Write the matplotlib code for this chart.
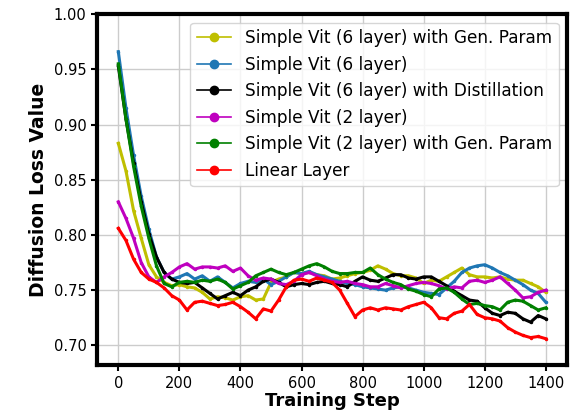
import matplotlib
matplotlib.use("Agg")
import matplotlib.pyplot as plt
from matplotlib.lines import Line2D
import numpy as np

steps = np.arange(0, 1401, 25)

# one value every 25 steps
vit6_gen = [0.883, 0.858, 0.822, 0.797, 0.773, 0.762, 0.757, 0.754, 0.755, 0.753,
            0.752, 0.748, 0.742, 0.744, 0.743, 0.741, 0.744, 0.745, 0.741, 0.742,
            0.757, 0.760, 0.762, 0.766, 0.765, 0.766, 0.764, 0.763, 0.760, 0.761,
            0.763, 0.765, 0.766, 0.768, 0.772, 0.769, 0.765, 0.763, 0.763, 0.761,
            0.756, 0.759, 0.758, 0.762, 0.766, 0.770, 0.764, 0.762, 0.762, 0.761,
            0.762, 0.760, 0.759, 0.759, 0.756, 0.753, 0.748]
vit6 = [0.966, 0.915, 0.872, 0.835, 0.805, 0.780, 0.766, 0.760, 0.762, 0.765,
        0.760, 0.763, 0.758, 0.762, 0.757, 0.752, 0.756, 0.758, 0.757, 0.760,
        0.755, 0.758, 0.762, 0.766, 0.765, 0.767, 0.764, 0.762, 0.760, 0.758,
        0.756, 0.755, 0.753, 0.752, 0.751, 0.750, 0.752, 0.753, 0.752, 0.750,
        0.748, 0.747, 0.746, 0.752, 0.758, 0.766, 0.770, 0.772, 0.773, 0.770,
        0.766, 0.763, 0.759, 0.755, 0.750, 0.747, 0.739]
vit6_distill = [0.953, 0.905, 0.865, 0.830, 0.801, 0.780, 0.766, 0.760, 0.757, 0.756,
                0.757, 0.752, 0.747, 0.742, 0.745, 0.748, 0.745, 0.750, 0.753, 0.758,
                0.760, 0.757, 0.753, 0.755, 0.756, 0.755, 0.757, 0.758, 0.756, 0.755,
                0.753, 0.758, 0.762, 0.759, 0.758, 0.761, 0.764, 0.764, 0.761, 0.760,
                0.762, 0.762, 0.758, 0.754, 0.749, 0.745, 0.741, 0.740, 0.734, 0.729,
                0.727, 0.730, 0.729, 0.724, 0.721, 0.727, 0.724]
vit2 = [0.830, 0.815, 0.797, 0.775, 0.762, 0.757, 0.762, 0.766, 0.771, 0.774,
        0.769, 0.771, 0.771, 0.770, 0.772, 0.767, 0.770, 0.763, 0.759, 0.761,
        0.760, 0.756, 0.755, 0.758, 0.764, 0.766, 0.763, 0.760, 0.758, 0.757,
        0.758, 0.756, 0.755, 0.753, 0.753, 0.756, 0.754, 0.752, 0.754, 0.756,
        0.757, 0.756, 0.754, 0.751, 0.753, 0.752, 0.758, 0.759, 0.757, 0.759,
        0.762, 0.756, 0.750, 0.743, 0.744, 0.748, 0.750]
vit2_gen = [0.955, 0.905, 0.862, 0.826, 0.797, 0.772, 0.756, 0.753, 0.757, 0.758,
            0.757, 0.759, 0.758, 0.760, 0.757, 0.751, 0.754, 0.757, 0.763, 0.766,
            0.769, 0.766, 0.764, 0.766, 0.769, 0.772, 0.774, 0.771, 0.767, 0.765,
            0.765, 0.766, 0.766, 0.770, 0.764, 0.760, 0.757, 0.755, 0.751, 0.749,
            0.746, 0.744, 0.751, 0.752, 0.748, 0.742, 0.737, 0.738, 0.736, 0.735,
            0.732, 0.739, 0.741, 0.740, 0.736, 0.732, 0.734]
linear = [0.806, 0.795, 0.778, 0.766, 0.760, 0.757, 0.752, 0.745, 0.741, 0.732,
          0.739, 0.740, 0.738, 0.736, 0.737, 0.739, 0.735, 0.730, 0.724, 0.733,
          0.731, 0.741, 0.753, 0.759, 0.760, 0.758, 0.761, 0.759, 0.757, 0.750,
          0.738, 0.726, 0.732, 0.734, 0.732, 0.734, 0.733, 0.732, 0.735, 0.737,
          0.739, 0.734, 0.725, 0.724, 0.729, 0.731, 0.737, 0.728, 0.725, 0.724,
          0.722, 0.716, 0.712, 0.709, 0.707, 0.708, 0.706]

series = [
    ("Simple Vit (6 layer) with Gen. Param", vit6_gen, "y"),
    ("Simple Vit (6 layer)", vit6, "#1f77b4"),
    ("Simple Vit (6 layer) with Distillation", vit6_distill, "k"),
    ("Simple Vit (2 layer)", vit2, "m"),
    ("Simple Vit (2 layer) with Gen. Param", vit2_gen, "g"),
    ("Linear Layer", linear, "r"),
]

fig, ax = plt.subplots(figsize=(5.77, 4.15), dpi=100)
fig.subplots_adjust(left=0.168, right=0.983, top=0.966, bottom=0.12)

handles = []
for label, vals, color in series:
    ax.plot(steps, vals, color=color, marker="o", markersize=1.5, linewidth=2.2)
    handles.append(Line2D([], [], color=color, marker="o", markersize=6,
                          linewidth=1.2, label=label))

ax.set_ylim(0.682, 1.0)
ax.set_xticks([0, 200, 400, 600, 800, 1000, 1200, 1400])
ax.set_yticks([0.70, 0.75, 0.80, 0.85, 0.90, 0.95, 1.00])
ax.yaxis.set_major_formatter(matplotlib.ticker.FormatStrFormatter("%.2f"))
ax.tick_params(labelsize=10.5, width=1.5, length=4)
ax.grid(True, color="#cccccc", linewidth=1)
for s in ax.spines.values():
    s.set_linewidth(3)

ax.set_xlabel("Training Step", fontsize=13, fontweight="bold", labelpad=1)
ax.set_ylabel("Diffusion Loss Value", fontsize=13.5, fontweight="bold")

ax.legend(handles=handles, loc="upper right", fontsize=12.2)

fig.savefig("out.png", dpi=100)
